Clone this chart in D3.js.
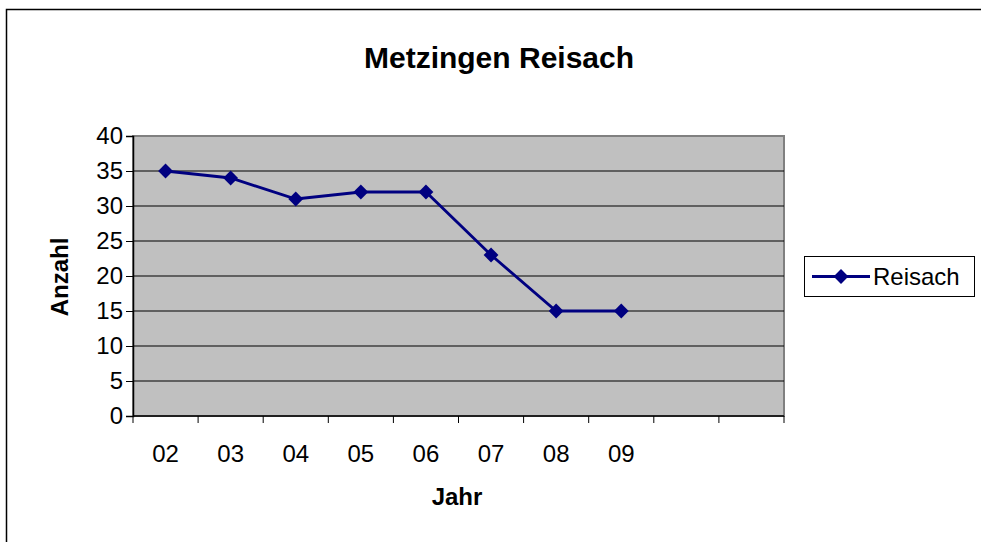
<!DOCTYPE html>
<html>
<head>
<meta charset="utf-8">
<script src="https://cdn.jsdelivr.net/npm/d3@7"></script>
<style>
  body { margin: 0; background: #fff; }
  text { font-family: Arial, "Liberation Sans", sans-serif; }
</style>
</head>
<body>
<div id="chart"></div>
<script>
// data
const years = ["02", "03", "04", "05", "06", "07", "08", "09"];
const reisach = [35, 34, 31, 32, 32, 23, 15, 15];
const yTicks = [0, 5, 10, 15, 20, 25, 30, 35, 40];
const slotCount = 10; // the axis keeps two empty slots on the right

const W = 981, H = 542;
const plot = {left: 133, top: 136, right: 784, bottom: 416};

const svg = d3.select("#chart").append("svg")
    .attr("width", W)
    .attr("height", H);

// outer chart frame
svg.append("rect")
    .attr("x", 6.5).attr("y", 9.5)
    .attr("width", W).attr("height", H)
    .attr("fill", "#fff")
    .attr("stroke", "#000")
    .attr("stroke-width", 1.5);

// title
svg.append("text")
    .attr("x", 499).attr("y", 68)
    .attr("text-anchor", "middle")
    .attr("font-size", "30px")
    .attr("font-weight", "bold")
    .text("Metzingen Reisach");

let x = d3.scaleBand()
    .domain(d3.range(slotCount))
    .range([plot.left, plot.right]);

let y = d3.scaleLinear()
    .domain([0, 40])
    .range([plot.bottom, plot.top]);

// plot background
svg.append("rect")
    .attr("x", plot.left).attr("y", plot.top)
    .attr("width", plot.right - plot.left)
    .attr("height", plot.bottom - plot.top)
    .attr("fill", "#c0c0c0")
    .attr("stroke", "#808080")
    .attr("stroke-width", 2);

// gridlines
svg.append("g")
    .selectAll("line")
    .data(yTicks.filter(d => d > 0 && d < 40))
    .join("line")
    .attr("x1", plot.left).attr("x2", plot.right)
    .attr("y1", d => y(d)).attr("y2", d => y(d))
    .attr("stroke", "#000")
    .attr("stroke-width", 1);

// y axis
let yAxis = svg.append("g")
    .attr("transform", `translate(${plot.left},0)`)
    .call(d3.axisLeft(y).tickValues(yTicks).tickSize(7).tickPadding(3));
yAxis.select(".domain").attr("stroke-width", 1.5);
yAxis.selectAll("text").attr("font-size", "24px").attr("fill", "#000")
    .attr("font-family", "Arial, 'Liberation Sans', sans-serif");

// x axis: ticks on slot boundaries, labels centred in slots
let xAxis = svg.append("g")
    .attr("transform", `translate(0,${plot.bottom})`);
xAxis.append("line")
    .attr("x1", plot.left).attr("x2", plot.right)
    .attr("stroke", "#000").attr("stroke-width", 1.5);
xAxis.selectAll(".tick")
    .data(d3.range(slotCount + 1))
    .join("line")
    .attr("class", "tick")
    .attr("x1", d => plot.left + d * x.step())
    .attr("x2", d => plot.left + d * x.step())
    .attr("y1", 0).attr("y2", 7)
    .attr("stroke", "#000");
xAxis.selectAll(".lbl")
    .data(years)
    .join("text")
    .attr("class", "lbl")
    .attr("x", (d, i) => x(i) + x.bandwidth() / 2)
    .attr("y", 46)
    .attr("text-anchor", "middle")
    .attr("font-size", "24px")
    .text(d => d);

// axis titles
svg.append("text")
    .attr("transform", `translate(68,277) rotate(-90)`)
    .attr("text-anchor", "middle")
    .attr("font-size", "24px")
    .attr("font-weight", "bold")
    .text("Anzahl");

svg.append("text")
    .attr("x", 457).attr("y", 505)
    .attr("text-anchor", "middle")
    .attr("font-size", "24px")
    .attr("font-weight", "bold")
    .text("Jahr");

// series line
const navy = "#000080";
let line = d3.line()
    .x((d, i) => x(i) + x.bandwidth() / 2)
    .y(d => y(d));

svg.append("path")
    .datum(reisach)
    .attr("d", line)
    .attr("fill", "none")
    .attr("stroke", navy)
    .attr("stroke-width", 2.8);

let diamond = d3.symbol().type(d3.symbolDiamond2).size(140);
svg.append("g")
    .selectAll("path")
    .data(reisach)
    .join("path")
    .attr("d", diamond)
    .attr("transform", (d, i) => `translate(${x(i) + x.bandwidth() / 2},${y(d)})`)
    .attr("fill", navy);

// legend
let legend = svg.append("g").attr("transform", "translate(804,256)");
legend.append("rect")
    .attr("x", 0.5).attr("y", 0.5)
    .attr("width", 170).attr("height", 40)
    .attr("fill", "#fff")
    .attr("stroke", "#000");
legend.append("line")
    .attr("x1", 8).attr("x2", 66)
    .attr("y1", 20.5).attr("y2", 20.5)
    .attr("stroke", navy).attr("stroke-width", 2.8);
legend.append("path")
    .attr("d", diamond)
    .attr("transform", "translate(37,20.5)")
    .attr("fill", navy);
legend.append("text")
    .attr("x", 69).attr("y", 29)
    .attr("font-size", "24px")
    .text("Reisach");
</script>
</body>
</html>
